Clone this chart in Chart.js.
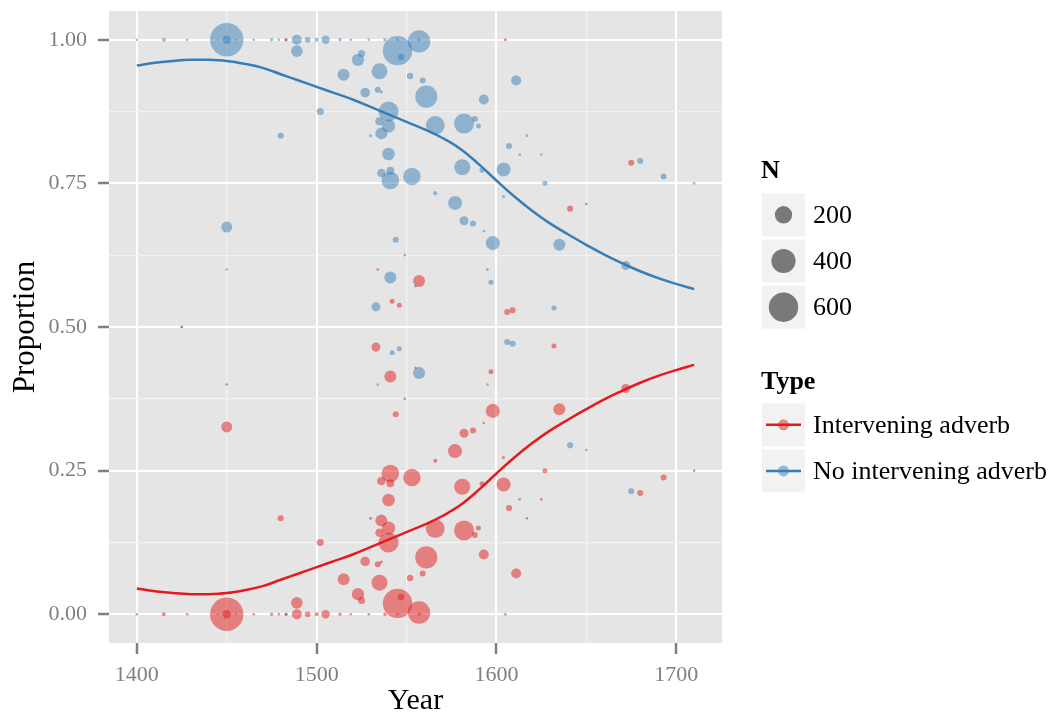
<!DOCTYPE html>
<html>
<head>
<meta charset="utf-8">
<script src="https://cdn.jsdelivr.net/npm/chart.js@4.4.1/dist/chart.umd.min.js"></script>
<style>
    body { margin: 0; background: #fff; }
    #wrap { width: 1063px; height: 716px; }
</style>
</head>
<body>
<div id="wrap"><canvas id="chart" width="1063" height="716"></canvas></div>
<script>
// one entry per observation; the two type columns are complements of each other
const years = [
    1400, 1415, 1428, 1445, 1450, 1450, 1455, 1465, 1475, 1479, 1483, 1489, 1495, 1500, 1505, 1513, 1519, 1529, 1538, 1545, 1557,
    1483, 1605,
    1489, 1525, 1523, 1515, 1535, 1545, 1547, 1557, 1552, 1527, 1534, 1536, 1540,
    1502, 1535, 1540, 1530, 1536, 1480, 1540, 1536, 1541, 1541, 1553, 1559, 1561, 1593, 1611,
    1566, 1582, 1588, 1590, 1617, 1607, 1613, 1625, 1581, 1592, 1604, 1627, 1566, 1577, 1604,
    1641, 1650, 1675, 1680, 1693, 1710, 1582, 1587, 1593, 1598, 1635, 1672, 1549, 1557, 1555,
    1546, 1595, 1597, 1606, 1609, 1632, 1450, 1544, 1450, 1534, 1541, 1533, 1542, 1425
];
const no_adverb = [
    1, 1, 1, 1, 1, 1, 1, 1, 1, 1, 1, 1, 1, 1, 1, 1, 1, 1, 1, 1, 1,
    0, 0,
    0.980, 0.976, 0.965, 0.939, 0.945, 0.981, 0.970, 0.997, 0.937, 0.908, 0.913, 0.909, 0.875,
    0.875, 0.858, 0.850, 0.833, 0.837, 0.833, 0.801, 0.768, 0.772, 0.755, 0.762, 0.929, 0.901, 0.896, 0.929,
    0.851, 0.854, 0.862, 0.850, 0.833, 0.815, 0.800, 0.800, 0.778, 0.773, 0.774, 0.750, 0.733, 0.716, 0.727,
    0.294, 0.286, 0.214, 0.789, 0.762, 0.750, 0.685, 0.680, 0.667, 0.646, 0.643, 0.607, 0.625, 0.420, 0.571,
    0.462, 0.400, 0.578, 0.474, 0.471, 0.533, 0.674, 0.652, 0.600, 0.400, 0.586, 0.535, 0.455, 0.500
];
const with_adverb = [
    0, 0, 0, 0, 0, 0, 0, 0, 0, 0, 0, 0, 0, 0, 0, 0, 0, 0, 0, 0, 0,
    1, 1,
    0.020, 0.024, 0.035, 0.061, 0.055, 0.019, 0.030, 0.003, 0.063, 0.092, 0.087, 0.091, 0.125,
    0.125, 0.142, 0.150, 0.167, 0.163, 0.167, 0.199, 0.232, 0.228, 0.245, 0.238, 0.071, 0.099, 0.104, 0.071,
    0.149, 0.146, 0.138, 0.150, 0.167, 0.185, 0.200, 0.200, 0.222, 0.227, 0.226, 0.250, 0.267, 0.284, 0.273,
    0.706, 0.714, 0.786, 0.211, 0.238, 0.250, 0.315, 0.320, 0.333, 0.354, 0.357, 0.393, 0.375, 0.580, 0.429,
    0.538, 0.600, 0.422, 0.526, 0.529, 0.467, 0.326, 0.348, 0.400, 0.600, 0.414, 0.465, 0.545, 0.500
];
const tokens = [
    2, 6, 2, 1, 780, 40, 1, 2, 4, 2, 3, 60, 16, 7, 40, 4, 2, 2, 4, 2, 3,
    3, 3,
    85, 27, 95, 90, 167, 600, 22, 340, 22, 55, 19, 3, 268,
    27, 43, 114, 3, 90, 19, 100, 43, 36, 205, 200, 19, 330, 60, 60,
    235, 268, 19, 12, 2, 19, 2, 2, 167, 12, 126, 12, 7, 126, 3,
    19, 2, 19, 19, 19, 2, 48, 19, 2, 126, 90, 48, 2, 90, 2,
    12, 2, 12, 19, 19, 12, 74, 19, 2, 2, 90, 48, 12, 2
];

// loess fits, every 10 years
const smooth_years = [
    1400, 1410, 1420, 1430, 1440, 1450, 1460, 1470, 1480, 1490, 1500, 1510, 1520, 1530, 1540, 1550,
    1560, 1570, 1580, 1590, 1600, 1610, 1620, 1630, 1640, 1650, 1660, 1670, 1680, 1690, 1700, 1710
];
const smooth_no_adverb = [
    0.955, 0.960, 0.963, 0.965, 0.965, 0.963, 0.958, 0.951, 0.940, 0.929, 0.918, 0.907, 0.896, 0.883, 0.870, 0.857,
    0.844, 0.829, 0.810, 0.784, 0.755, 0.727, 0.702, 0.680, 0.661, 0.643, 0.626, 0.611, 0.597, 0.585, 0.575, 0.566
];
const smooth_with_adverb = [
    0.045, 0.040, 0.037, 0.035, 0.035, 0.037, 0.042, 0.049, 0.060, 0.071, 0.082, 0.093, 0.104, 0.117, 0.130, 0.143,
    0.156, 0.171, 0.190, 0.216, 0.245, 0.273, 0.298, 0.320, 0.339, 0.357, 0.374, 0.389, 0.403, 0.415, 0.425, 0.434
];

const type_names = ['Intervening adverb', 'No intervening adverb'];
const legend_sizes = [200, 400, 600];
const x_major = [1400, 1500, 1600, 1700];
const x_minor = [1450, 1550, 1650];
const y_major = [0, 0.25, 0.5, 0.75, 1];
const y_major_labels = ['0.00', '0.25', '0.50', '0.75', '1.00'];
const y_minor = [0.125, 0.375, 0.625, 0.875];

const red = '#E41A1C';
const blue = '#377EB8';
const red_fill = 'rgba(228, 26, 28, 0.5)';
const blue_fill = 'rgba(55, 126, 184, 0.5)';
const serif = '"Liberation Serif", "DejaVu Serif", serif';

function size_to_radius(n) {
    return 0.5 + 0.58 * Math.sqrt(n);
}

function points(xs, ys, ns) {
    return xs.map((x, i) => ({ x: x, y: ys[i], n: ns ? ns[i] : 0 }));
}

function is_major(list, v) {
    return list.some(m => Math.abs(m - v) < 1e-6);
}

const panel_bg = {
    id: 'panel_bg',
    beforeDraw(chart) {
        const a = chart.chartArea;
        const c = chart.ctx;
        c.save();
        c.fillStyle = '#E5E5E5';
        c.fillRect(a.left, a.top, a.right - a.left, a.bottom - a.top);
        c.restore();
    }
};

const gg_legend = {
    id: 'gg_legend',
    afterDraw(chart) {
        const c = chart.ctx;
        const kx = 762, kw = 43, lx = 813;
        c.save();
        c.fillStyle = '#000';
        c.textAlign = 'left';
        c.textBaseline = 'alphabetic';
        c.font = 'bold 26px ' + serif;
        c.fillText('N', 761, 178);
        legend_sizes.forEach((n, i) => {
            const top = 193.3 + i * 46.2;
            c.fillStyle = '#F2F2F2';
            c.fillRect(kx, top, kw, kw);
            c.fillStyle = 'rgba(0, 0, 0, 0.5)';
            c.beginPath();
            c.arc(kx + kw / 2, top + kw / 2, size_to_radius(n), 0, Math.PI * 2);
            c.fill();
            c.fillStyle = '#000';
            c.font = '26px ' + serif;
            c.textBaseline = 'middle';
            c.fillText(String(n), lx, top + kw / 2 + 1);
            c.textBaseline = 'alphabetic';
        });
        c.font = 'bold 26px ' + serif;
        c.fillText('Type', 761, 389);
        [red, blue].forEach((col, i) => {
            const top = 403.3 + i * 46.1;
            const cy = top + kw / 2;
            c.fillStyle = '#F2F2F2';
            c.fillRect(kx, top, kw, kw);
            c.fillStyle = i === 0 ? red_fill : blue_fill;
            c.beginPath();
            c.arc(kx + kw / 2, cy, 5.5, 0, Math.PI * 2);
            c.fill();
            c.strokeStyle = col;
            c.lineWidth = 2.5;
            c.beginPath();
            c.moveTo(kx + 4, cy);
            c.lineTo(kx + kw - 4, cy);
            c.stroke();
            c.fillStyle = '#000';
            c.font = '26px ' + serif;
            c.textBaseline = 'middle';
            c.fillText(type_names[i], lx, cy + 1);
            c.textBaseline = 'alphabetic';
        });
        c.restore();
    }
};

document.addEventListener('DOMContentLoaded', function () {
    const ctx = document.getElementById('chart').getContext('2d');
    const radius = c => size_to_radius(c.raw.n);

    new Chart(ctx, {
        type: 'scatter',
        data: {
            datasets: [
                {
                    label: type_names[1] + ' fit',
                    data: points(smooth_years, smooth_no_adverb),
                    showLine: true,
                    borderColor: blue,
                    borderWidth: 2.5,
                    pointRadius: 0,
                    tension: 0.4,
                    order: 0
                },
                {
                    label: type_names[0] + ' fit',
                    data: points(smooth_years, smooth_with_adverb),
                    showLine: true,
                    borderColor: red,
                    borderWidth: 2.5,
                    pointRadius: 0,
                    tension: 0.4,
                    order: 1
                },
                {
                    label: type_names[0],
                    data: points(years, with_adverb, tokens),
                    backgroundColor: red_fill,
                    borderWidth: 0,
                    pointRadius: radius,
                    order: 2
                },
                {
                    label: type_names[1],
                    data: points(years, no_adverb, tokens),
                    backgroundColor: blue_fill,
                    borderWidth: 0,
                    pointRadius: radius,
                    order: 3
                }
            ]
        },
        options: {
            responsive: false,
            animation: false,
            devicePixelRatio: 1,
            layout: { autoPadding: false, padding: { top: 11, right: 341, left: 0, bottom: 0 } },
            plugins: {
                legend: { display: false },
                tooltip: { enabled: false }
            },
            scales: {
                x: {
                    type: 'linear',
                    min: 1384.5,
                    max: 1725.5,
                    afterBuildTicks: s => { s.ticks = x_major.concat(x_minor).sort().map(v => ({ value: v })); },
                    afterFit: s => { s.height = 73; },
                    border: { display: false },
                    grid: {
                        color: c => is_major(x_major, c.tick.value) ? '#FFFFFF' : '#F2F2F2',
                        lineWidth: c => is_major(x_major, c.tick.value) ? 2 : 1.2,
                        tickColor: c => is_major(x_major, c.tick.value) ? '#7F7F7F' : 'rgba(0,0,0,0)',
                        tickWidth: 2.5,
                        tickLength: 11
                    },
                    ticks: {
                        autoSkip: false,
                        maxRotation: 0,
                        padding: 8,
                        color: '#7F7F7F',
                        font: { family: serif, size: 22 },
                        callback: v => is_major(x_major, v) ? String(v) : ''
                    },
                    title: {
                        display: true,
                        text: 'Year',
                        color: '#000',
                        font: { family: serif, size: 30, lineHeight: 1 },
                        padding: { top: 0, bottom: 0 }
                    }
                },
                y: {
                    min: -0.05,
                    max: 1.05,
                    afterBuildTicks: s => { s.ticks = y_major.concat(y_minor).sort().map(v => ({ value: v })); },
                    // the top tick sits well inside the panel, so it needs no extra room
                    afterFit: s => { s.width = 109; s.paddingTop = 0; s.paddingBottom = 0; },
                    border: { display: false },
                    grid: {
                        color: c => is_major(y_major, c.tick.value) ? '#FFFFFF' : '#F2F2F2',
                        lineWidth: c => is_major(y_major, c.tick.value) ? 2 : 1.2,
                        tickColor: c => is_major(y_major, c.tick.value) ? '#7F7F7F' : 'rgba(0,0,0,0)',
                        tickWidth: 2.5,
                        tickLength: 11
                    },
                    ticks: {
                        autoSkip: false,
                        padding: 11,
                        color: '#7F7F7F',
                        font: { family: serif, size: 22 },
                        callback: v => {
                            const i = y_major.findIndex(m => Math.abs(m - v) < 1e-6);
                            return i >= 0 ? y_major_labels[i] : '';
                        }
                    },
                    title: {
                        display: true,
                        text: 'Proportion',
                        color: '#000',
                        font: { family: serif, size: 31, lineHeight: 1 },
                        padding: { top: 10, bottom: 0 }
                    }
                }
            }
        },
        plugins: [panel_bg, gg_legend]
    });
});
</script>
</body>
</html>
